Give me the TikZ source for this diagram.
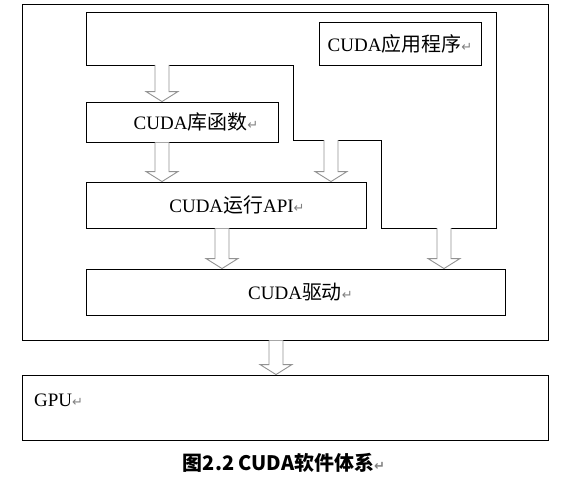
\documentclass[tikz,border=0pt]{standalone}
\usepackage{fontspec}
\setmainfont{Liberation Serif}
\newfontfamily\cjk[Scale=1.05]{Noto Sans CJK SC}
\newfontfamily\symfont{DejaVu Sans}
\newcommand{\retmark}{{\symfont\fontsize{13}{13}\selectfont\textcolor{gray}{↵}}}
\usetikzlibrary{calc}

\begin{document}
\begin{tikzpicture}[
		x=1pt,
		y=-1pt,
		font=\fontsize{19}{21}\selectfont,
		box/.style={draw,line width=0.9pt,inner sep=0pt,fill=white},
		frame/.style={draw,line width=0.9pt},
		fat/.style={draw=gray!85,line width=0.9pt,fill=white,
			to path={let \p1=(\tikztostart), \p2=(\tikztotarget) in
				(\x1-7pt,\y1) -- (\x1-7pt,\y2+10pt) -- (\x1-16pt,\y2+10pt) -- (\x1,\y2)
				-- (\x1+16pt,\y2+10pt) -- (\x1+7pt,\y2+10pt) -- (\x1+7pt,\y1)}}
		]
		
		\useasboundingbox (0,0) rectangle (570,487);
		
		% =====================================================
		% System frame and application region
		% =====================================================
		\node[frame,minimum width=526pt,minimum height=336pt] (sys) at (285,172) {};
		
		\draw[frame] (86,12) -- (496,12) -- (496,228) -- (381,228) -- (381,140)
		-- (293,140) -- (293,65) -- (86,65) -- cycle;
		\coordinate (appL) at (162,65);
		\coordinate (appM) at (331,140);
		\coordinate (appR) at (444,228);
		
		\node[box,minimum width=162pt,minimum height=43pt] (app) at (400,43.5)
		{CUDA{\cjk 应用程序}\retmark};
		
		% =====================================================
		% Software layers
		% =====================================================
		\node[box,minimum width=192pt,minimum height=40pt] (lib) at (182,122)
		{\hspace*{28pt}CUDA{\cjk 库函数}\retmark};
		
		\node[box,minimum width=280pt,minimum height=46pt] (run) at (226,205)
		{\hspace*{22pt}CUDA{\cjk 运行}API\retmark};
		
		\node[box,minimum width=419pt,minimum height=46pt] (drv) at (295.5,292)
		{\hspace*{10pt}CUDA{\cjk 驱动}\retmark};
		
		% =====================================================
		% Hardware
		% =====================================================
		\node[frame,minimum width=526pt,minimum height=65pt] (gpu) at (285,407.5) {};
		\node[anchor=west,inner sep=0pt] (gpulabel) at (34,400) {GPU\retmark};
		
		% block arrows
		\draw[fat] (appL) to (lib.north -| appL);
		\draw[fat] (lib.south -| appL) to (run.north -| appL);
		\draw[fat] (appM) to (run.north -| appM);
		\draw[fat] (run.south -| 222,0) to (drv.north -| 222,0);
		\draw[fat] (appR) to (drv.north -| appR);
		\draw[fat] (sys.south -| 276,0) to (gpu.north -| 276,0);
		
		% =====================================================
		% Caption
		% =====================================================
		\node[font=\cjk\bfseries\fontsize{19}{21}\selectfont] (caption) at (284,463)
		{图2.2 CUDA软件体系\retmark};
		
	\end{tikzpicture}
\end{document}
